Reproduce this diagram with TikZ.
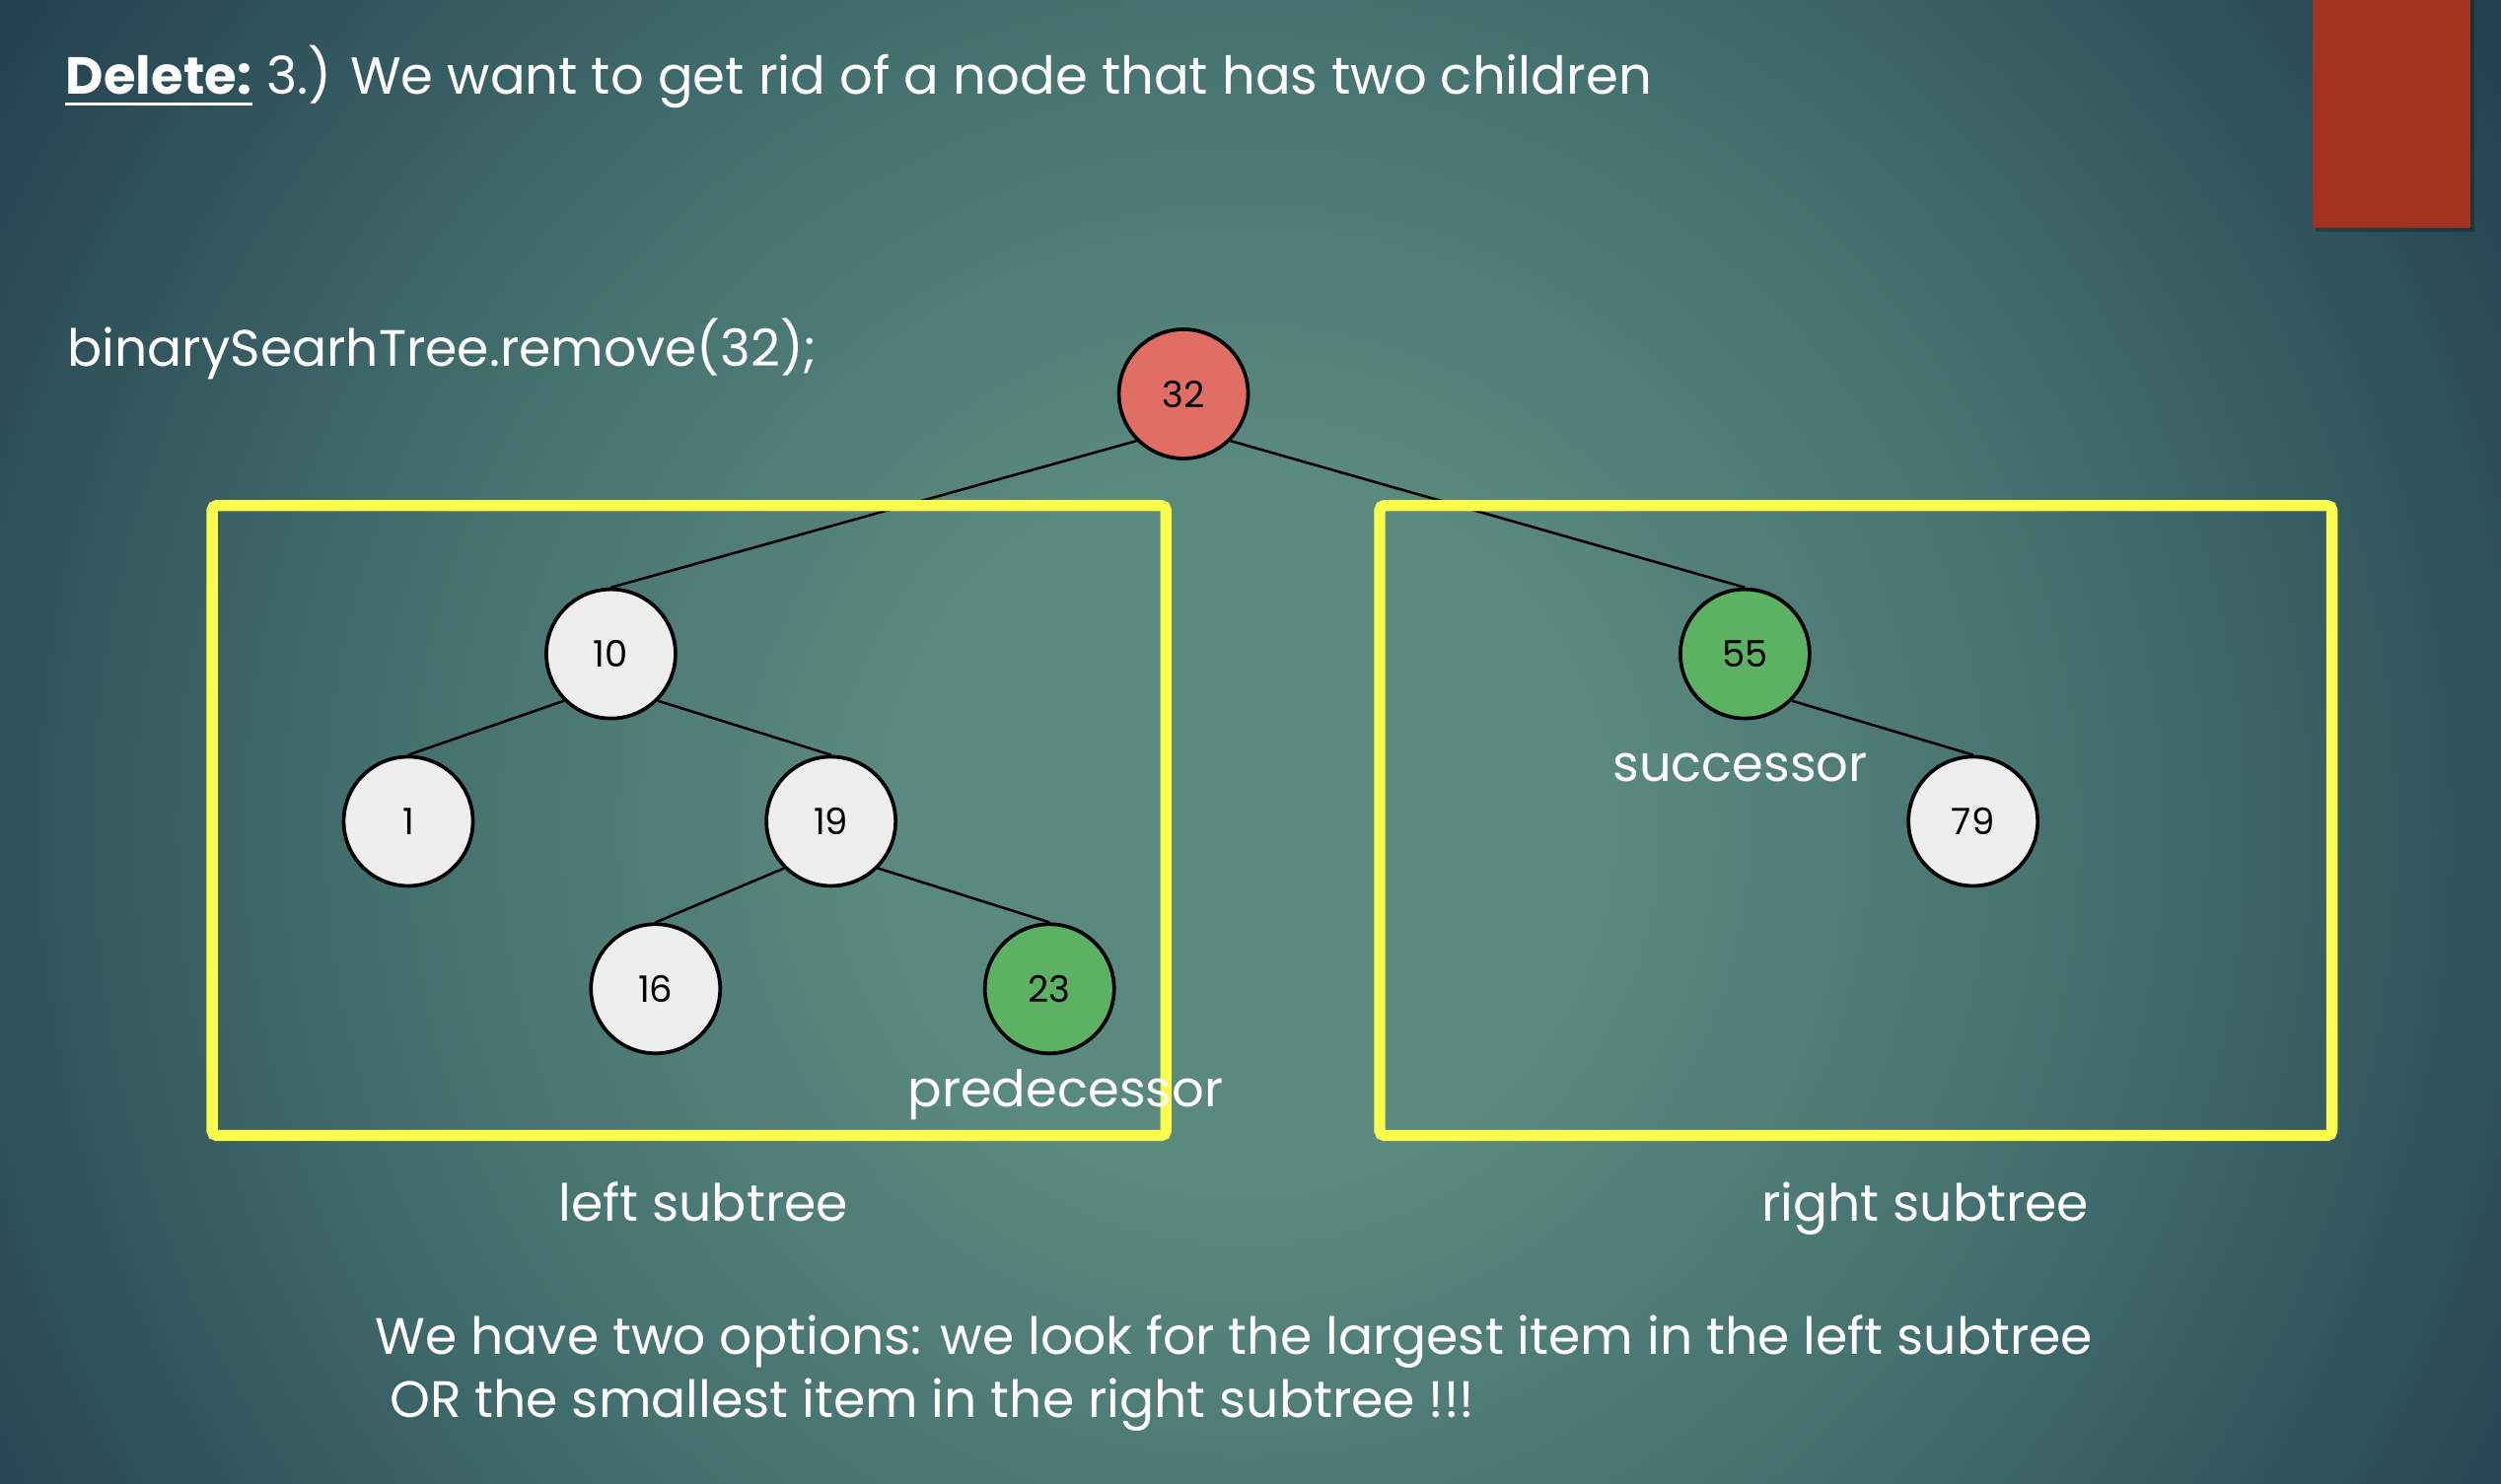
\documentclass[tikz,border=0pt]{standalone}
\usepackage{fontspec}
\setmainfont{Poppins}
\usetikzlibrary{positioning}

\definecolor{bgcentre}{HTML}{5A897E}
\definecolor{bgmid}{HTML}{44706F}
\definecolor{bgedge}{HTML}{223E4E}
\definecolor{rootred}{HTML}{E06E64}
\definecolor{leafgreen}{HTML}{5CB262}
\definecolor{nodegrey}{HTML}{EEEEEE}
\definecolor{boxyellow}{HTML}{FCFC4A}
\definecolor{tabred}{HTML}{A53221}

\pgfdeclareradialshading{slidebg}{\pgfpoint{0bp}{0bp}}{%
  color(0bp)=(bgcentre); color(6bp)=(bgcentre); color(14bp)=(bgmid);
  color(25bp)=(bgedge); color(50bp)=(bgedge)}

\tikzset{
  treenode/.style={circle, draw=black, line width=1.3pt, fill=nodegrey,
    minimum size=1.62cm, inner sep=0pt, font=\fontsize{13}{14}\selectfont},
  branch/.style={line width=0.9pt, black},
  subtreebox/.style={draw=boxyellow, line width=0.14cm, rounded corners=0.06cm},
  slidetext/.style={text=white, inner sep=0pt, font=\fontsize{18.3}{21}\selectfont},
  tagtext/.style={text=white, inner sep=0pt, font=\fontsize{18}{21}\selectfont}
}

\begin{document}
\begin{tikzpicture}[x=0.02cm, y=-0.02cm]
  % Slide background
  \useasboundingbox (0,0) rectangle (1568,930);
  \begin{scope}
    \clip (0,0) rectangle (1568,930);
    \shade[shading=slidebg] (780,520) circle (950);
  \end{scope}
  \fill[black, opacity=0.25] (1452,0) rectangle (1551,145);
  \fill[tabred] (1450,0) rectangle (1549,143);

  % Heading and call
  \node[slidetext, anchor=base west, font=\fontsize{18.6}{21}\selectfont\bfseries] (delete) at (41,59) {Delete:};
  \node[slidetext, anchor=base west, font=\fontsize{18.6}{21}\selectfont] (heading) at (delete.base east) {\ 3.) We want to get rid of a node that has two children};
  \draw[white, line width=1pt] ([yshift=-3.6pt]delete.base west) -- ([yshift=-3.6pt]delete.base east);
  \node[slidetext, anchor=base west] (call) at (42,230) {binarySearhTree.remove(32);};

  % The tree
  \node[treenode, fill=rootred] (n32) at (742,247) {32};
  \node[treenode] (n10) at (383,410) {10};
  \node[treenode, fill=leafgreen] (n55) at (1094,410) {55};
  \node[treenode] (n1) at (256,515) {1};
  \node[treenode] (n19) at (521,515) {19};
  \node[treenode] (n79) at (1237,515) {79};
  \node[treenode] (n16) at (411,620) {16};
  \node[treenode, fill=leafgreen] (n23) at (658,620) {23};

  \draw[branch] (n32.south west) -- (n10.north);
  \draw[branch] (n32.south east) -- (n55.north);
  \draw[branch] (n10.south west) -- (n1.north);
  \draw[branch] (n10.south east) -- (n19.north);
  \draw[branch] (n19.south west) -- (n16.north);
  \draw[branch] (n19.south east) -- (n23.north);
  \draw[branch] (n55.south east) -- (n79.north);

  % Subtree frames
  \draw[subtreebox] (133,317) rectangle (731,712);
  \draw[subtreebox] (865,317) rectangle (1462,712);

  % Labels
  \node[tagtext, anchor=base] (pred) at (668,694) {predecessor};
  \node[tagtext, anchor=base] (succ) at (1091,490) {successor};
  \node[slidetext, anchor=base] (lefttag) at (441,766) {left subtree};
  \node[slidetext, anchor=base] (righttag) at (1207,766) {right subtree};

  % Closing remark
  \node[slidetext, anchor=base west] (optA) at (235,849) {We have two options: we look for the largest item in the left subtree};
  \node[slidetext, anchor=base west] (optB) at (244,889) {OR the smallest item in the right subtree !!!};
\end{tikzpicture}
\end{document}
